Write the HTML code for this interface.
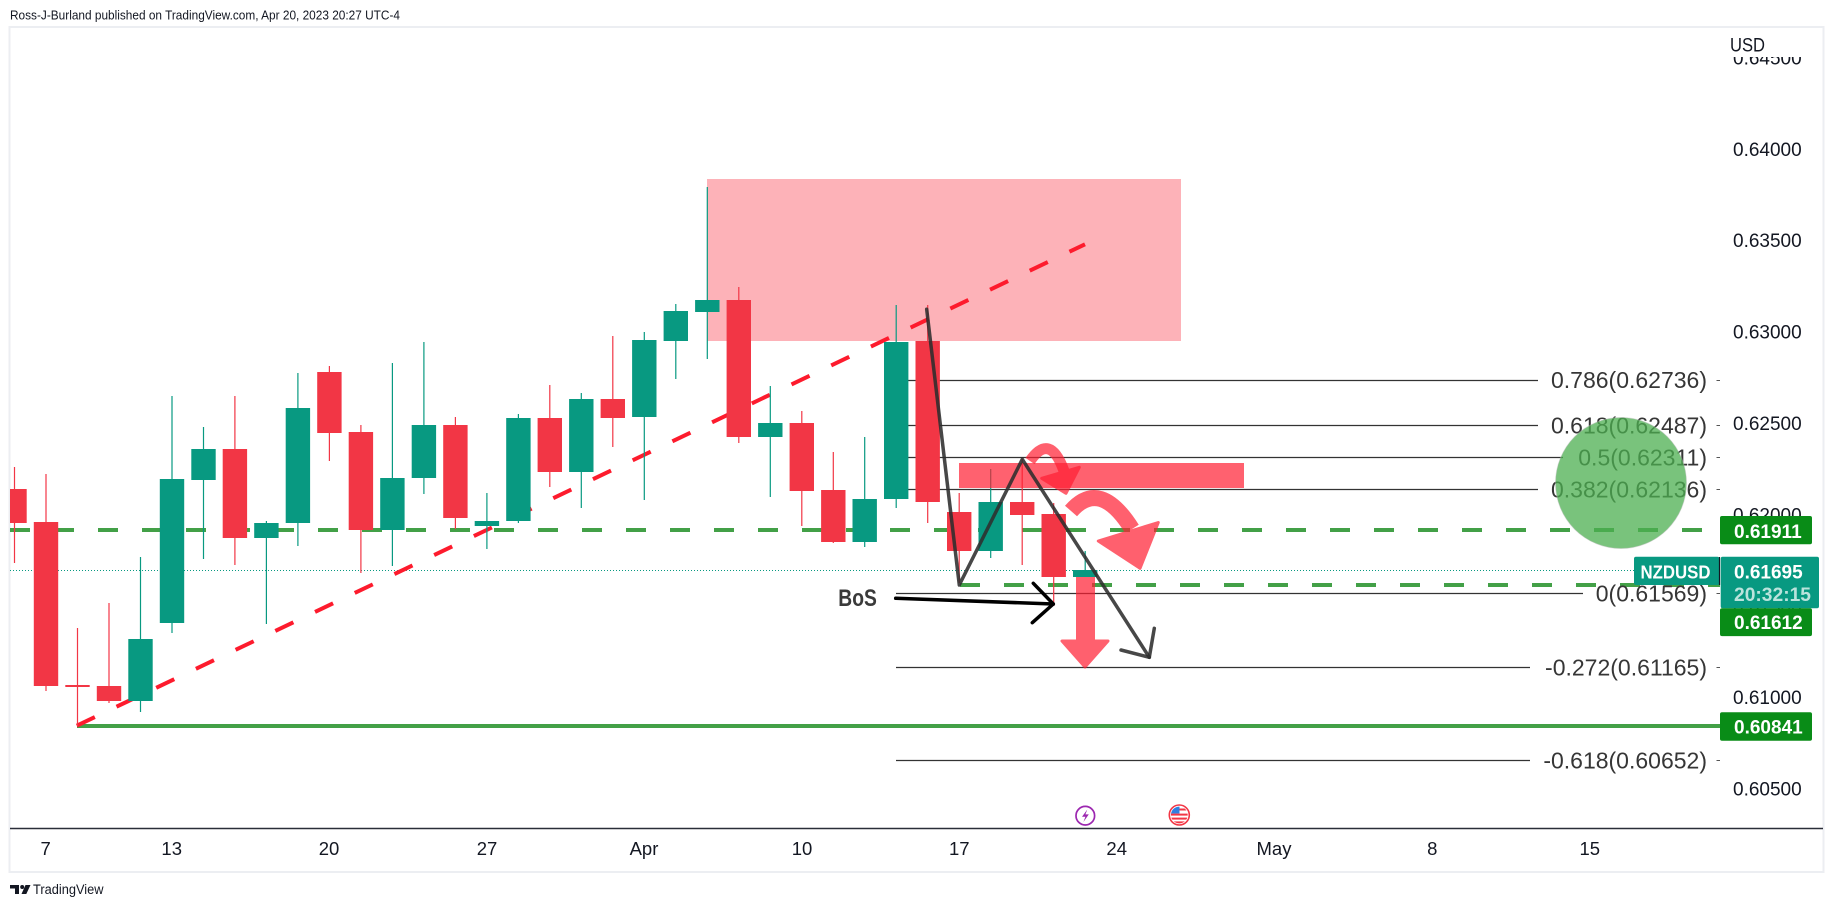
<!DOCTYPE html>
<html><head><meta charset="utf-8"><style>
html,body{margin:0;padding:0;background:#fff;}
svg{display:block;}
text{font-family:"Liberation Sans",Arial,sans-serif;}
</style></head><body>
<svg width="1834" height="907" viewBox="0 0 1834 907" xmlns="http://www.w3.org/2000/svg">
<defs>
<clipPath id="cp"><rect x="10" y="28" width="1710" height="800"/></clipPath>
<clipPath id="flag"><circle cx="1179.3" cy="815" r="8.4"/></clipPath>
</defs>
<rect width="1834" height="907" fill="#fff"/>
<text x="10" y="19.5" font-size="12.5" fill="#131722" textLength="390" lengthAdjust="spacingAndGlyphs">Ross-J-Burland published on TradingView.com, Apr 20, 2023 20:27 UTC-4</text>
<rect x="9.5" y="27" width="1814" height="845" fill="none" stroke="#eceef2" stroke-width="2"/>

<g clip-path="url(#cp)">
<!-- supply zone -->
<rect x="707" y="179" width="474" height="162" fill="#fdb2b8"/>
<!-- horizontal lines -->
<line x1="10" y1="530" x2="1720" y2="530" stroke="#43a047" stroke-width="4" stroke-dasharray="20 24"/>
<line x1="960" y1="585" x2="1720" y2="585" stroke="#43a047" stroke-width="4" stroke-dasharray="20 24"/>
<line x1="77" y1="726" x2="1720" y2="726" stroke="#43a047" stroke-width="4"/>
<line x1="10" y1="570.5" x2="1634" y2="570.5" stroke="#089981" stroke-width="1" stroke-dasharray="1 2"/>
<!-- fib lines -->
<g stroke="#333" stroke-width="1.3">
<line x1="896" y1="380.5" x2="1538" y2="380.5"/>
<line x1="896" y1="425.5" x2="1538" y2="425.5"/>
<line x1="896" y1="457.5" x2="1563" y2="457.5"/>
<line x1="896" y1="489.5" x2="1538" y2="489.5"/>
<line x1="896" y1="593.5" x2="1583" y2="593.5"/>
<line x1="896" y1="667.5" x2="1530" y2="667.5"/>
<line x1="896" y1="760.5" x2="1530" y2="760.5"/>
</g>
<!-- trendline -->
<line x1="76.8" y1="725.7" x2="1085" y2="244.3" stroke="#fd1b2d" stroke-width="4" stroke-dasharray="20 24"/>

<!-- green candles -->
<g fill="#089981">
<rect x="139.9" y="557" width="1.2" height="155"/><rect x="128.3" y="639" width="24.4" height="62"/>
<rect x="171.4" y="396" width="1.2" height="237"/><rect x="159.8" y="479" width="24.4" height="144"/>
<rect x="202.9" y="427" width="1.2" height="132"/><rect x="191.3" y="449" width="24.4" height="31"/>
<rect x="265.8" y="521" width="1.2" height="103"/><rect x="254.2" y="523" width="24.4" height="15"/>
<rect x="297.3" y="373" width="1.2" height="173"/><rect x="285.7" y="408" width="24.4" height="115"/>
<rect x="391.8" y="363" width="1.2" height="203"/><rect x="380.2" y="478" width="24.4" height="52"/>
<rect x="423.3" y="342" width="1.2" height="152"/><rect x="411.7" y="425" width="24.4" height="53"/>
<rect x="486.3" y="493" width="1.2" height="56"/><rect x="474.7" y="521" width="24.4" height="5"/>
<rect x="517.8" y="414" width="1.2" height="109"/><rect x="506.2" y="418" width="24.4" height="103"/>
<rect x="580.7" y="393" width="1.2" height="115"/><rect x="569.1" y="399" width="24.4" height="73"/>
<rect x="643.7" y="332" width="1.2" height="168"/><rect x="632.1" y="340" width="24.4" height="77"/>
<rect x="675.2" y="304" width="1.2" height="75"/><rect x="663.6" y="311" width="24.4" height="30"/>
<rect x="706.7" y="187" width="1.2" height="172"/><rect x="695.1" y="300" width="24.4" height="12"/>
<rect x="769.7" y="386" width="1.2" height="111"/><rect x="758.1" y="423" width="24.4" height="14"/>
<rect x="864.1" y="437" width="1.2" height="110"/><rect x="852.5" y="499" width="24.4" height="43"/>
<rect x="895.6" y="305" width="1.2" height="203"/><rect x="884" y="342" width="24.4" height="157"/>
<rect x="990.1" y="469" width="1.2" height="89"/><rect x="978.5" y="502" width="24.4" height="49"/>
<rect x="1084.6" y="551" width="1.2" height="26"/><rect x="1073" y="570" width="24.4" height="7"/>
</g>
<!-- red candles -->
<g fill="#f23645">
<rect x="13.9" y="467" width="1.2" height="96"/><rect x="2.3" y="489" width="24.4" height="34"/>
<rect x="45.4" y="474" width="1.2" height="217"/><rect x="33.8" y="522" width="24.4" height="164"/>
<rect x="76.9" y="628" width="1.2" height="98"/><rect x="65.3" y="685" width="24.4" height="2"/>
<rect x="108.4" y="603" width="1.2" height="100"/><rect x="96.8" y="686" width="24.4" height="15"/>
<rect x="234.3" y="396" width="1.2" height="169"/><rect x="222.7" y="449" width="24.4" height="89"/>
<rect x="328.8" y="366" width="1.2" height="95"/><rect x="317.2" y="372" width="24.4" height="61"/>
<rect x="360.3" y="425" width="1.2" height="148"/><rect x="348.7" y="432" width="24.4" height="98"/>
<rect x="454.8" y="417" width="1.2" height="112"/><rect x="443.2" y="425" width="24.4" height="93"/>
<rect x="549.2" y="385" width="1.2" height="102"/><rect x="537.6" y="418" width="24.4" height="54"/>
<rect x="612.2" y="336" width="1.2" height="111"/><rect x="600.6" y="399" width="24.4" height="19"/>
<rect x="738.2" y="287" width="1.2" height="156"/><rect x="726.6" y="300" width="24.4" height="137"/>
<rect x="801.2" y="411" width="1.2" height="115"/><rect x="789.6" y="423" width="24.4" height="68"/>
<rect x="832.7" y="452" width="1.2" height="91"/><rect x="821.1" y="490" width="24.4" height="52"/>
<rect x="927.1" y="305" width="1.2" height="218"/><rect x="915.5" y="341" width="24.4" height="161"/>
<rect x="958.6" y="493" width="1.2" height="90"/><rect x="947" y="512" width="24.4" height="39"/>
<rect x="1021.6" y="459" width="1.2" height="106"/><rect x="1010" y="502" width="24.4" height="13"/>
<rect x="1053.1" y="503" width="1.2" height="103"/><rect x="1041.5" y="514" width="24.4" height="63"/>
</g>

<!-- red bar -->
<rect x="959" y="463" width="285" height="25" fill="#ff1e32" opacity="0.7"/>
<!-- gray zigzag -->
<g stroke="#2e2e2e" stroke-opacity="0.88" stroke-width="3.5" fill="none" stroke-linejoin="round" stroke-linecap="round">
<polyline points="926.7,309.3 959.3,585 1022.3,459.3 1149.3,657.3"/>
<polyline points="1154.3,628.3 1149.3,657.3 1121,650"/>
</g>
<!-- red arrows -->
<g opacity="0.7" fill="#ff1e32" stroke="#ff1e32">
<path d="M1030,461 Q1050,432 1064,471" stroke-width="11" fill="none"/>
<polygon points="1041.7,478.3 1079.3,467.3 1066,493.3" stroke-width="3" stroke-linejoin="round"/>
<path d="M1071,511 Q1100,478 1132,529" stroke-width="16" fill="none"/>
<polygon points="1098.3,541 1158.3,522.5 1140,568.3" stroke-width="3" stroke-linejoin="round"/>
<rect x="1076" y="577" width="19" height="65" stroke="none"/>
<polygon points="1062,641 1108,641 1085,667" stroke-width="3" stroke-linejoin="round"/>
</g>
<!-- BoS arrow -->
<g stroke="#000" stroke-width="3.5" fill="none" stroke-linecap="round" stroke-linejoin="round">
<line x1="895.7" y1="598.3" x2="1053.3" y2="604"/>
<polyline points="1033.3,583.3 1053.3,604 1032.3,622.7"/>
</g>
<text x="838.3" y="606" font-size="24" font-weight="bold" fill="#3a3a3a" textLength="38.5" lengthAdjust="spacingAndGlyphs">BoS</text>
</g>

<!-- fib labels -->
<g font-size="23" fill="#363636" text-anchor="end">
<text x="1707" y="388.2">0.786(0.62736)</text>
<text x="1707" y="433.7">0.618(0.62487)</text>
<text x="1707" y="465.7">0.5(0.62311)</text>
<text x="1707" y="497.5">0.382(0.62136)</text>
<text x="1707" y="601.5">0(0.61569)</text>
<text x="1707" y="675.5">-0.272(0.61165)</text>
<text x="1707" y="768.7">-0.618(0.60652)</text>
</g>
<g stroke="#555" stroke-width="1">
<line x1="1716.5" y1="380.5" x2="1720" y2="380.5"/>
<line x1="1716.5" y1="425.5" x2="1720" y2="425.5"/>
<line x1="1716.5" y1="457.5" x2="1720" y2="457.5"/>
<line x1="1716.5" y1="489.5" x2="1720" y2="489.5"/>
<line x1="1716.5" y1="593.5" x2="1720" y2="593.5"/>
<line x1="1716.5" y1="667.5" x2="1720" y2="667.5"/>
<line x1="1716.5" y1="760.5" x2="1720" y2="760.5"/>
</g>
<!-- green circle -->
<circle cx="1621" cy="483" r="65.5" fill="#4caf50" fill-opacity="0.75" stroke="#bbb" stroke-opacity="0.4" stroke-width="1"/>

<!-- price axis labels -->
<g font-size="19" fill="#131722">
<text x="1733" y="64.5">0.64500</text>
<text x="1733" y="155.9">0.64000</text>
<text x="1733" y="247.2">0.63500</text>
<text x="1733" y="338.6">0.63000</text>
<text x="1733" y="429.9">0.62500</text>
<text x="1733" y="521.3">0.62000</text>
<text x="1733" y="612.6">0.61500</text>
<text x="1733" y="703.9">0.61000</text>
<text x="1733" y="795.3">0.60500</text>
</g>
<rect x="1722" y="28" width="100" height="29" fill="#fff"/>
<text x="1730" y="51.7" font-size="19" fill="#131722" textLength="35" lengthAdjust="spacingAndGlyphs">USD</text>

<!-- price boxes -->
<rect x="1720" y="516" width="92" height="28.3" rx="2" fill="#098c17"/>
<text x="1734" y="537.8" font-size="19" font-weight="bold" fill="#fff">0.61911</text>
<rect x="1634" y="556.7" width="85.3" height="28.3" rx="2" fill="#089981"/>
<text x="1640.5" y="578.3" font-size="18" font-weight="bold" fill="#fff" textLength="70" lengthAdjust="spacingAndGlyphs">NZDUSD</text>
<line x1="1719.5" y1="557" x2="1719.5" y2="585" stroke="#131722" stroke-width="1.2"/>
<rect x="1720.7" y="556.7" width="98.3" height="51.6" rx="2" fill="#089981"/>
<text x="1734" y="578.5" font-size="19" font-weight="bold" fill="#fff">0.61695</text>
<text x="1734" y="601" font-size="19" font-weight="bold" fill="#fff" fill-opacity="0.72" textLength="77" lengthAdjust="spacingAndGlyphs">20:32:15</text>
<rect x="1720" y="608.3" width="92" height="27.8" rx="2" fill="#098c17"/>
<text x="1734" y="629.2" font-size="19" font-weight="bold" fill="#fff">0.61612</text>
<rect x="1720" y="712.3" width="92" height="28.4" rx="2" fill="#098c17"/>
<text x="1734" y="733.5" font-size="19" font-weight="bold" fill="#fff">0.60841</text>

<!-- event icons -->
<circle cx="1085.3" cy="815.7" r="9.3" fill="#fff" stroke="#9c27b0" stroke-width="1.7"/>
<path d="M1087.3,809.5 L1082,816.8 L1085.4,816.8 L1083.4,822 L1088.8,814.4 L1085.4,814.4 Z" fill="#9c27b0"/>
<circle cx="1179.3" cy="815" r="10" fill="#fff" stroke="#f23645" stroke-width="1.6"/>
<g clip-path="url(#flag)">
<rect x="1170" y="806" width="20" height="18" fill="#fff"/>
<rect x="1170" y="813.6" width="20" height="2" fill="#f23645"/>
<rect x="1170" y="817.6" width="20" height="2" fill="#f23645"/>
<rect x="1170" y="821.4" width="20" height="3" fill="#f23645"/>
<rect x="1170" y="806" width="9.5" height="7.5" fill="#2f7fe0"/>
<rect x="1179.5" y="808.5" width="10" height="2" fill="#f23645"/>
</g>

<!-- time axis -->
<line x1="10" y1="828.5" x2="1823" y2="828.5" stroke="#2a2e39" stroke-width="1.5"/>
<g font-size="18.5" fill="#131722" text-anchor="middle">
<text x="45.7" y="855">7</text>
<text x="171.7" y="855">13</text>
<text x="329" y="855">20</text>
<text x="487" y="855">27</text>
<text x="644" y="855">Apr</text>
<text x="802" y="855">10</text>
<text x="959.3" y="855">17</text>
<text x="1116.7" y="855">24</text>
<text x="1274" y="855">May</text>
<text x="1432.3" y="855">8</text>
<text x="1589.8" y="855">15</text>
</g>

<!-- footer logo -->
<path d="M10,885 h9 v9 h-4 v-5.5 h-5 z" fill="#131722"/>
<circle cx="22.2" cy="887" r="2" fill="#131722"/>
<path d="M25.5,885 h5 l-4.2,9 h-4.8 z" fill="#131722"/>
<text x="33" y="894" font-size="13.5" fill="#131722" textLength="70.5" lengthAdjust="spacingAndGlyphs">TradingView</text>
</svg>
</body></html>
